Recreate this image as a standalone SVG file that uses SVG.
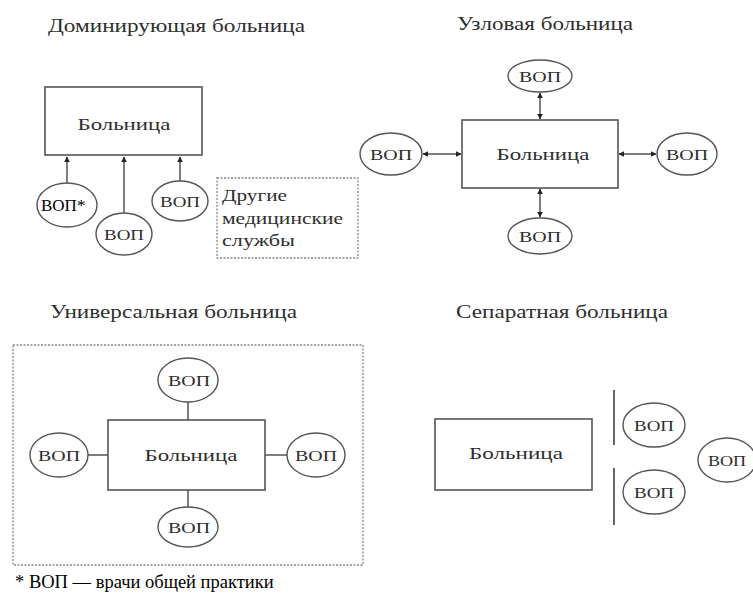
<svg xmlns="http://www.w3.org/2000/svg" width="753" height="594" viewBox="0 0 753 594">
<defs>
<style>
text{font-family:"Liberation Serif","Times New Roman",serif;fill:#2e2e2e;}
.t{font-size:18px;}
.l{font-size:17px;text-anchor:middle;}
.v{font-size:15px;text-anchor:middle;}
.box{fill:#fff;stroke:#555;stroke-width:1.6;}
.ell{fill:#fff;stroke:#555;stroke-width:1.4;}
.dot{fill:none;stroke:#888;stroke-width:1.3;stroke-dasharray:2 1.5;}
.c{stroke:#555;stroke-width:1.5;fill:none;}
.sep{stroke:#666;stroke-width:2;}
</style>
<marker id="ah" viewBox="0 0 10 10" refX="9" refY="5" markerWidth="6" markerHeight="6" orient="auto-start-reverse" markerUnits="userSpaceOnUse"><path d="M0,0 L10,5 L0,10 z" fill="#222"/></marker>
</defs>
<rect width="753" height="594" fill="#fff"/>

<!-- Titles -->
<text class="t" x="48" y="32" textLength="257" lengthAdjust="spacingAndGlyphs">Доминирующая больница</text>
<text class="t" x="457" y="30" textLength="176" lengthAdjust="spacingAndGlyphs">Узловая больница</text>
<text class="t" x="50" y="318" textLength="247" lengthAdjust="spacingAndGlyphs">Универсальная больница</text>
<text class="t" x="456" y="318" textLength="212" lengthAdjust="spacingAndGlyphs">Сепаратная больница</text>

<!-- Connectors -->
<g id="connectors">
<line class="c" x1="67" y1="183" x2="67" y2="157" marker-end="url(#ah)"/>
<line class="c" x1="124" y1="213" x2="124" y2="157" marker-end="url(#ah)"/>
<line class="c" x1="180" y1="181" x2="180" y2="157" marker-end="url(#ah)"/>

<line class="c" x1="540" y1="93" x2="540" y2="119" marker-start="url(#ah)" marker-end="url(#ah)"/>
<line class="c" x1="540" y1="189" x2="540" y2="217" marker-start="url(#ah)" marker-end="url(#ah)"/>
<line class="c" x1="423" y1="154" x2="461" y2="154" marker-start="url(#ah)" marker-end="url(#ah)"/>
<line class="c" x1="619" y1="154" x2="656" y2="154" marker-start="url(#ah)" marker-end="url(#ah)"/>

<line class="c" x1="188" y1="402" x2="188" y2="420"/>
<line class="c" x1="188" y1="490" x2="188" y2="507"/>
<line class="c" x1="88" y1="455" x2="108" y2="455"/>
<line class="c" x1="265" y1="455" x2="287" y2="455"/>

<line class="sep" x1="614" y1="390" x2="614" y2="445"/>
<line class="sep" x1="614" y1="468" x2="614" y2="525"/>
</g>

<!-- Dominant -->
<g id="dom-hospital"><rect class="box" x="45" y="87" width="157" height="68"/><text class="l" x="124" y="130" textLength="93" lengthAdjust="spacingAndGlyphs">Больница</text></g>
<g id="dom-gp1"><ellipse class="ell" cx="67" cy="205" rx="30" ry="22"/><text x="41" y="211" style="font-size:17px;fill:#000">ВОП*</text></g>
<g id="dom-gp2"><ellipse class="ell" cx="124" cy="234" rx="28" ry="21"/><text class="v" x="124" y="240" textLength="40" lengthAdjust="spacingAndGlyphs">ВОП</text></g>
<g id="dom-gp3"><ellipse class="ell" cx="180" cy="201" rx="28" ry="20"/><text class="v" x="180" y="207" textLength="40" lengthAdjust="spacingAndGlyphs">ВОП</text></g>
<g id="dom-other"><rect class="dot" x="217" y="178" width="141" height="80"/>
<text x="222" y="201" style="font-size:16px" textLength="65" lengthAdjust="spacingAndGlyphs">Другие</text>
<text x="222" y="224" style="font-size:16px" textLength="121" lengthAdjust="spacingAndGlyphs">медицинские</text>
<text x="222" y="246" style="font-size:16px" textLength="73" lengthAdjust="spacingAndGlyphs">службы</text></g>

<!-- Nodal -->
<g id="nod-hospital"><rect class="box" x="462" y="120" width="156" height="68"/><text class="l" x="543" y="160" textLength="93" lengthAdjust="spacingAndGlyphs">Больница</text></g>
<g id="nod-top"><ellipse class="ell" cx="540" cy="76" rx="32" ry="16"/><text class="v" x="540" y="82" textLength="42" lengthAdjust="spacingAndGlyphs">ВОП</text></g>
<g id="nod-bottom"><ellipse class="ell" cx="540" cy="236" rx="32" ry="18"/><text class="v" x="540" y="242" textLength="42" lengthAdjust="spacingAndGlyphs">ВОП</text></g>
<g id="nod-left"><ellipse class="ell" cx="391" cy="154" rx="31" ry="21"/><text class="v" x="391" y="160" textLength="42" lengthAdjust="spacingAndGlyphs">ВОП</text></g>
<g id="nod-right"><ellipse class="ell" cx="687" cy="154" rx="30" ry="21"/><text class="v" x="687" y="160" textLength="42" lengthAdjust="spacingAndGlyphs">ВОП</text></g>

<!-- Universal -->
<g id="uni-frame"><rect class="dot" x="13" y="345" width="350" height="220"/></g>
<g id="uni-hospital"><rect class="box" x="108" y="420" width="157" height="70"/><text class="l" x="191" y="461" textLength="93" lengthAdjust="spacingAndGlyphs">Больница</text></g>
<g id="uni-top"><ellipse class="ell" cx="188" cy="380" rx="30" ry="22"/><text class="v" x="189" y="386" textLength="42" lengthAdjust="spacingAndGlyphs">ВОП</text></g>
<g id="uni-bottom"><ellipse class="ell" cx="188" cy="527" rx="30" ry="20"/><text class="v" x="189" y="533" textLength="42" lengthAdjust="spacingAndGlyphs">ВОП</text></g>
<g id="uni-left"><ellipse class="ell" cx="59" cy="455" rx="29" ry="22"/><text class="v" x="59" y="461" textLength="42" lengthAdjust="spacingAndGlyphs">ВОП</text></g>
<g id="uni-right"><ellipse class="ell" cx="316" cy="455" rx="29" ry="22"/><text class="v" x="316" y="461" textLength="42" lengthAdjust="spacingAndGlyphs">ВОП</text></g>

<!-- Separate -->
<g id="sep-hospital"><rect class="box" x="435" y="419" width="157" height="71"/><text class="l" x="516" y="459" textLength="94" lengthAdjust="spacingAndGlyphs">Больница</text></g>
<g id="sep-gp1"><ellipse class="ell" cx="654" cy="425" rx="31" ry="22"/><text class="v" x="654" y="431" textLength="40" lengthAdjust="spacingAndGlyphs">ВОП</text></g>
<g id="sep-gp2"><ellipse class="ell" cx="654" cy="492" rx="31" ry="22"/><text class="v" x="654" y="498" textLength="40" lengthAdjust="spacingAndGlyphs">ВОП</text></g>
<g id="sep-gp3"><ellipse class="ell" cx="727" cy="460" rx="29" ry="22"/><text class="v" x="727" y="466" textLength="38" lengthAdjust="spacingAndGlyphs">ВОП</text></g>

<!-- Footnote -->
<text x="15" y="588" style="font-size:18.5px;fill:#000">* ВОП — врачи общей практики</text>
</svg>
